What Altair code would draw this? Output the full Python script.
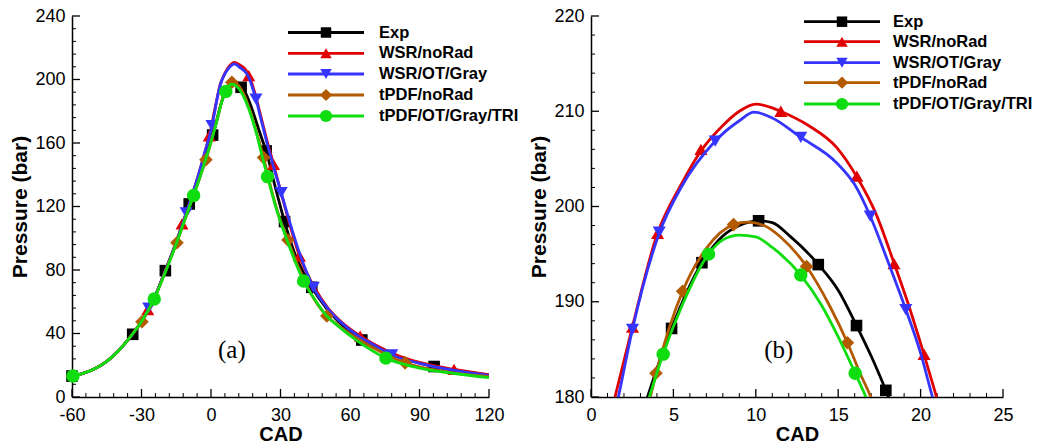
import altair as alt
import pandas as pd

FONT = "Liberation Sans"
SERIES = ["Exp", "WSR/noRad", "WSR/OT/Gray", "tPDF/noRad", "tPDF/OT/Gray/TRI"]
COLORS = ["#000000", "#e00000", "#3535ff", "#b35a00", "#10dd10"]
SHAPES = ["square", "triangle-up", "triangle-down", "diamond", "circle"]
SIZES = [135, 170, 170, 185, 180]
LEG_SIZES = [110, 130, 130, 150, 150]

# ---------------- curves: CAD vs pressure (bar) ----------------
EXP_CAD = [-60, -55, -50, -45, -40, -35, -30, -25, -20, -15, -10, -5, -2.5, 0, 2, 3.43, 4.89, 6.73, 8, 9,
           10.17, 11, 12, 13.8, 15, 16.11, 17, 17.89, 19, 20.5, 22, 23.8, 27, 31.75, 36, 40, 43.5, 50, 55, 65.1,
           75, 85, 96.3, 110, 120]
EXP_P = [13, 15, 18, 22.5, 29, 37.5, 47.5, 60.5, 78.5, 97.5, 119, 140, 151, 161.5, 171.5, 180, 187.2, 194.1, 196.9, 198.0,
         198.5, 198.3, 197.0, 193.9, 191.2, 187.5, 184.3, 180.7, 175.8, 169, 162.5, 155, 136.5, 110.5, 91, 78, 69.1, 55.5, 47.5, 36.5,
         29.5, 23.5, 19.2, 15.8, 13.8]

RED_CAD = [-60, -55, -50, -45, -40, -35, -30, -25, -20, -15, -10, -5, -2.5, 0, 1.5, 2.5, 4, 5.5, 6.7, 8,
           9, 10, 11, 11.5, 13.2, 14.9, 16.1, 17.3, 18.4, 19.3, 20.2, 21, 22, 24, 27, 30, 33, 38.2, 45, 50,
           55, 64.4, 70, 80, 90, 105, 120]
RED_P = [13, 15, 18, 22.5, 29, 37.5, 47.5, 60.5, 78.5, 97.5, 119, 142, 155, 169, 180.3, 187.3, 197.0, 202.4, 205.9, 208.5,
         210.0, 210.75, 210.35, 210.0, 208.5, 206.2, 203.2, 199.2, 194.0, 189.5, 184.5, 179.8, 174, 162.5, 146.6, 130, 114, 88.8, 68, 57,
         49, 38.4, 33.5, 26.5, 21.8, 17.4, 14]

BLUE_CAD = [-60, -55, -50, -45, -40, -35, -30, -25, -20, -15, -10, -5, -2.5, 0, 1.66, 2.5, 4.1, 5.5, 7.5, 9,
            9.9, 11, 12.7, 14.9, 16, 16.94, 18, 19.1, 20, 20.72, 22, 24, 27, 30.3, 33, 38, 44.2, 50, 55, 64,
            70, 78, 90, 105, 120]
BLUE_P = [13, 15, 18, 22.5, 29, 37.5, 47.5, 60.5, 78.5, 97.5, 119, 142, 155, 168, 180, 187.0, 197.0, 202.1, 206.8, 209.0,
          209.9, 209.3, 207.3, 204.6, 202.3, 199.0, 194.3, 189.2, 184.6, 180, 172.5, 161, 145, 128.7, 115, 91.5, 69.1, 56.5, 48.5, 38,
          33, 26.5, 21.2, 16.8, 13.6]

BROWN_CAD = [-60, -55, -50, -45, -40, -35, -30, -25, -20, -15, -10, -5, -2.2, 0, 2, 3.6, 3.94, 5.56, 7, 8.65,
             9.5, 10.5, 11.5, 13.08, 14.5, 15.56, 16.3, 16.98, 18, 20, 22.7, 26, 29, 33.2, 38, 43, 50, 55, 63, 70,
             83.8, 95, 105, 120]
BROWN_P = [13, 15, 18, 22.5, 29, 37.5, 47.5, 60, 78, 96.5, 117, 137.5, 149.5, 160.5, 171.5, 180, 182.4, 191.1, 195.6, 198.1,
           198.35, 198.0, 196.8, 193.7, 189.5, 185.7, 182.6, 180, 175, 165, 150.8, 131, 115.5, 98.9, 81, 65.5, 51, 45, 37, 31,
           21.5, 17.5, 15, 12.8]

GREEN_CAD = [-60, -55, -50, -45, -40, -35, -30, -25, -20, -15, -10, -7.5, -5, -2.5, 0, 2, 3.54, 4.38, 5.5, 7.13,
             8, 9, 10, 11, 12.73, 14, 15, 16.03, 16.68, 18, 20, 22, 24.4, 28, 32, 36, 39.95, 45, 50, 55,
             63, 75.5, 90, 105, 120]
GREEN_P = [13, 15, 18, 22.5, 29, 37.5, 47.5, 60.5, 77.5, 96.5, 117, 127, 137.5, 149, 160.5, 171, 180, 184.5, 189.5, 195.0,
           196.5, 197.0, 196.8, 195.7, 192.8, 189.6, 186.3, 182.5, 180, 174, 164, 152, 138.8, 119.5, 102, 86.5, 73.1, 61, 51, 44.5,
           35.5, 24.5, 18.2, 14.8, 12.2]

# ---------------- symbols, panel (a) ----------------
EXP_MA_CAD = [-60, -33.8, -19.7, -9.4, 0.7, 13.0, 23.8, 31.75, 43.5, 65.1, 96.3]
EXP_MA_P = [13.2, 39.5, 79.6, 121.6, 165, 195.1, 155, 110.5, 69.1, 35.9, 19.2]
RED_MA_CAD = [-27.3, -12.5, -0.77, 16.3, 27.0, 38.2, 64.4, 104.9]
RED_MA_P = [55, 109, 164.5, 202.5, 146.6, 88.8, 38.4, 17.4]
BLUE_MA_CAD = [-26.9, -10.7, 0.4, 19.4, 30.3, 44.2, 78.0]
BLUE_MA_P = [56, 116, 171, 187.7, 128.7, 69.1, 26.5]
BROWN_MA_CAD = [-29.8, -14.7, -2.2, 9.0, 22.7, 33.2, 50.0, 83.8]
BROWN_MA_P = [47.4, 97.2, 149.5, 198.3, 150.8, 98.9, 51, 21.5]
GREEN_MA_CAD = [-59.6, -24.5, -7.5, 6.4, 24.4, 39.95, 75.5]
GREEN_MA_P = [13.2, 61.7, 127, 192.5, 138.8, 73.1, 24.5]

# ---------------- symbols, panel (b) ----------------
EXP_MB_CAD = [4.89, 6.73, 10.17, 13.79, 16.11, 17.89]
EXP_MB_P = [187.2, 194.1, 198.5, 193.9, 187.5, 180.7]
RED_MB_CAD = [2.52, 4.04, 6.67, 11.52, 16.13, 18.39, 20.21]
RED_MB_P = [187.35, 197.17, 206.0, 210.0, 203.19, 194.0, 184.49]
BLUE_MB_CAD = [2.52, 4.14, 7.54, 12.73, 16.94, 19.10]
BLUE_MB_P = [187.1, 197.3, 206.87, 207.25, 198.99, 189.18]
BROWN_MB_CAD = [3.94, 5.56, 8.65, 13.08, 15.56]
BROWN_MB_P = [182.5, 191.1, 198.1, 193.7, 185.7]
GREEN_MB_CAD = [4.38, 7.13, 12.73, 16.03]
GREEN_MB_P = [184.5, 195.0, 192.8, 182.5]

CURVES = [(EXP_CAD, EXP_P), (RED_CAD, RED_P), (BLUE_CAD, BLUE_P), (BROWN_CAD, BROWN_P), (GREEN_CAD, GREEN_P)]
MARKS_A = [(EXP_MA_CAD, EXP_MA_P), (RED_MA_CAD, RED_MA_P), (BLUE_MA_CAD, BLUE_MA_P),
           (BROWN_MA_CAD, BROWN_MA_P), (GREEN_MA_CAD, GREEN_MA_P)]
MARKS_B = [(EXP_MB_CAD, EXP_MB_P), (RED_MB_CAD, RED_MB_P), (BLUE_MB_CAD, BLUE_MB_P),
           (BROWN_MB_CAD, BROWN_MB_P), (GREEN_MB_CAD, GREEN_MB_P)]

# axes / ticks
XA_MAJ = [-60, -30, 0, 30, 60, 90, 120]
XA_MIN = [v for v in range(-60, 121, 6) if v % 30 != 0]
YA_MAJ = [0, 40, 80, 120, 160, 200, 240]
YA_MIN = [v for v in range(0, 241, 8) if v % 40 != 0]
XB_MAJ = [0, 5, 10, 15, 20, 25]
XB_MIN = [v for v in range(0, 26) if v % 5 != 0]
YB_MAJ = [180, 190, 200, 210, 220]
YB_MIN = [v for v in range(180, 221, 2) if v % 10 != 0]


def panel(marks, xdom, ydom, xmaj, xmin, ymaj, ymin, W, H, leg, label, label_pos):
    xs = alt.Scale(domain=xdom, nice=False, zero=False)
    ys = alt.Scale(domain=ydom, nice=False, zero=False)
    xax = alt.Axis(title="CAD", values=xmaj, ticks=False, grid=False, domainColor="black", domainWidth=1.5,
                   labelFlush=False, labelOverlap=False, labelFont=FONT, labelFontSize=18, labelColor="black",
                   labelExpr="datum.value + ''",
                   labelPadding=9, titleFont=FONT, titleFontSize=20, titleFontWeight="bold", titleColor="black",
                   titlePadding=0)
    yax = alt.Axis(title="Pressure (bar)", values=ymaj, ticks=False, grid=False, domainColor="black", domainWidth=1.5,
                   labelFlush=False, labelOverlap=False, labelFont=FONT, labelFontSize=18, labelColor="black",
                   labelExpr="datum.value + ''",
                   labelPadding=7, titleFont=FONT, titleFontSize=21, titleFontWeight="bold", titleColor="black",
                   titlePadding=4)

    def X(f):
        return alt.X(f"{f}:Q", scale=xs, axis=xax)

    def Y(f):
        return alt.Y(f"{f}:Q", scale=ys, axis=yax)

    layers = []
    # inward ticks
    for vals, ln, sw in [(xmaj, 8, 1.3), (xmin, 4, 1.0)]:
        layers.append(alt.Chart(pd.DataFrame({"v": vals})).mark_rule(color="black", strokeWidth=sw).encode(
            x=X("v"), y=alt.value(H), y2=alt.value(H - ln)))
    for vals, ln, sw in [(ymaj, 8, 1.3), (ymin, 4, 1.0)]:
        layers.append(alt.Chart(pd.DataFrame({"v": vals})).mark_rule(color="black", strokeWidth=sw).encode(
            y=Y("v"), x=alt.value(0), x2=alt.value(ln)))

    for i in range(len(SERIES)):
        cx, cy = CURVES[i]
        df = pd.DataFrame({"cad": cx, "p": cy})
        layers.append(alt.Chart(df).mark_line(color=COLORS[i], strokeWidth=2.8, clip=True,
                                               interpolate="monotone").encode(x=X("cad"), y=Y("p")))
        mx, my = marks[i]
        dm = pd.DataFrame({"cad": mx, "p": my})
        layers.append(alt.Chart(dm).mark_point(shape=SHAPES[i], filled=True, color=COLORS[i], opacity=1,
                                                size=SIZES[i]).encode(x=X("cad"), y=Y("p")))

    # panel label
    dl = pd.DataFrame({"cad": [label_pos[0]], "p": [label_pos[1]]})
    layers.append(alt.Chart(dl).mark_text(text=label, font="Liberation Serif", fontSize=25, color="black").encode(
        x=X("cad"), y=Y("p")))

    # legend
    x1, x2, xm, xt, rows = leg
    for i, name in enumerate(SERIES):
        d1 = pd.DataFrame({"s": [name]})
        layers.append(alt.Chart(d1).mark_rule(color=COLORS[i], strokeWidth=2.8).encode(
            x=alt.value(x1), x2=alt.value(x2), y=alt.value(rows[i])))
        layers.append(alt.Chart(d1).mark_point(shape=SHAPES[i], filled=True, color=COLORS[i], opacity=1,
                                                size=LEG_SIZES[i]).encode(x=alt.value(xm), y=alt.value(rows[i])))
        layers.append(alt.Chart(d1).mark_text(text=name, align="left", baseline="middle", font=FONT,
                                               fontSize=16.5, fontWeight="bold", color="black").encode(
            x=alt.value(xt), y=alt.value(rows[i])))

    return alt.layer(*layers).properties(width=W, height=H)


left = panel(MARKS_A, [-60, 120], [0, 240], XA_MAJ, XA_MIN, YA_MAJ, YA_MIN, 417, 381,
             (216, 292, 254, 307, [16.5, 37.3, 58, 79, 100]), "(a)", (9.0, 29.6))
right = panel(MARKS_B, [0, 25], [180, 220], XB_MAJ, XB_MIN, YB_MAJ, YB_MIN, 412, 381,
              (213, 289, 251, 302, [5.7, 25.7, 46.7, 66.7, 88]), "(b)", (11.4, 184.9))

chart = alt.hconcat(left, right, spacing=102, bounds="flush").properties(
    padding={"left": 9, "top": 7, "right": 5, "bottom": 5}
).configure_view(stroke=None)

chart.save("out.html", embed_options={"renderer": "svg", "actions": False})
